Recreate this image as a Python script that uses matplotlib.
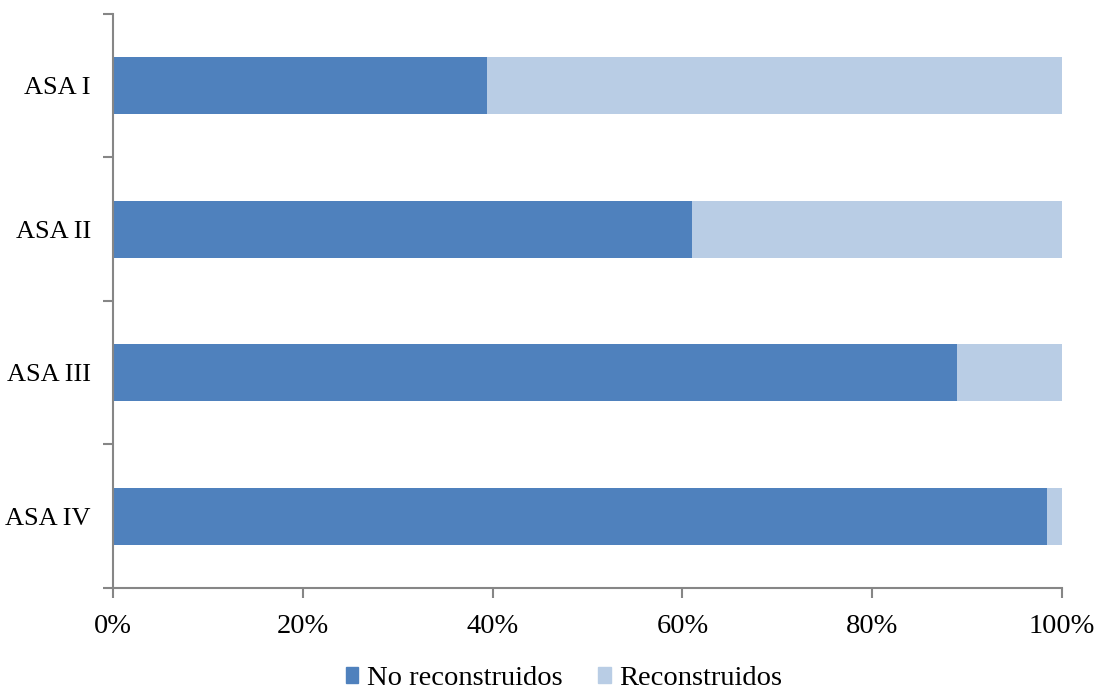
import matplotlib.pyplot as plt
import numpy as np
from matplotlib.patches import Patch

plt.rcParams['font.family'] = ['Liberation Serif', 'DejaVu Serif']

categorias = ['ASA I', 'ASA II', 'ASA III', 'ASA IV']
no_reconstruidos = [39.4, 61.0, 88.9, 98.4]
reconstruidos = [100 - v for v in no_reconstruidos]
xticks = [0, 20, 40, 60, 80, 100]

col_no = '#4F81BD'
col_si = '#B9CDE5'
gris = '#868686'

fig = plt.figure(figsize=(11.04, 6.89), dpi=100)
ax = fig.add_axes([0.1024, 0.1466, 0.8596, 0.8331])

y = np.arange(len(categorias))
ax.barh(y, no_reconstruidos, height=0.4, color=col_no)
ax.barh(y, reconstruidos, height=0.4, left=no_reconstruidos, color=col_si)

ax.set_xlim(0, 100)
ax.set_ylim(len(categorias) - 0.5, -0.5)

ax.set_xticks(xticks)
ax.set_xticklabels([f'{v}%' for v in xticks], fontsize=20.5)
ax.set_yticks(y)
ax.set_yticklabels(categorias, fontsize=19)
ax.set_yticks(np.arange(-0.5, len(categorias)), minor=True)
ax.tick_params(axis='y', which='major', length=0, pad=16)
ax.tick_params(axis='y', which='minor', length=7, color=gris, width=1.5)
ax.tick_params(axis='x', length=7, color=gris, width=1.5, pad=12)

for s in ['top', 'right']:
    ax.spines[s].set_visible(False)
for s in ['left', 'bottom']:
    ax.spines[s].set_color(gris)
    ax.spines[s].set_linewidth(1.5)

handles = [Patch(color=col_no, label='No reconstruidos'),
           Patch(color=col_si, label='Reconstruidos')]
fig.legend(handles=handles, loc='center', bbox_to_anchor=(0.511, 0.015),
           ncol=2, frameon=False, fontsize=20.5, handlelength=0.45,
           handleheight=0.45, handletextpad=0.3, columnspacing=1.25)

fig.savefig('out.png', dpi=100)
